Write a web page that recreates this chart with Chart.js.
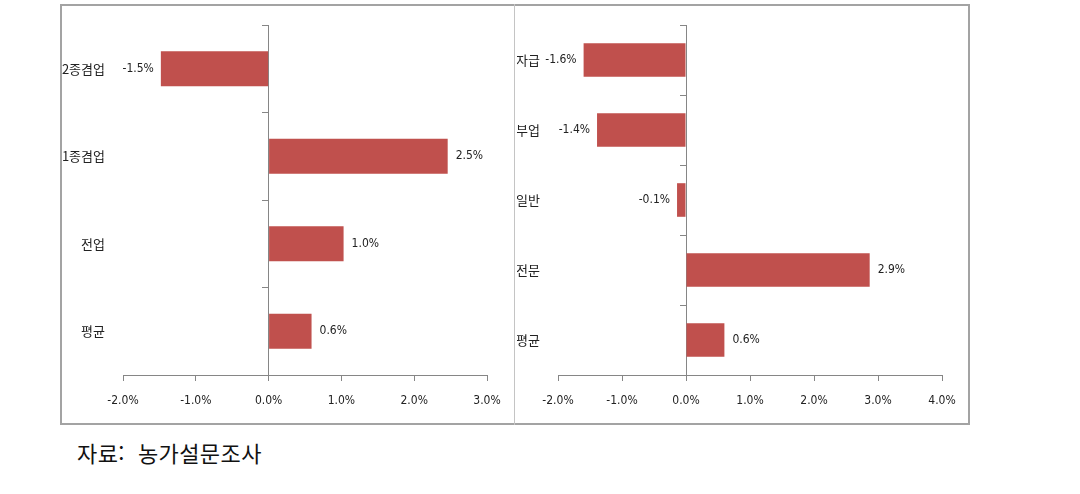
<!DOCTYPE html>
<html lang="ko">
<head>
  <meta charset="UTF-8" />
  <title>농가 유형별 변화율</title>
  <style>
    * { box-sizing: border-box; margin: 0; padding: 0; }
    body { background: #fff; width: 1080px; height: 494px; position: relative; overflow: hidden; }
    .frame {
      position: absolute; left: 60px; top: 4px; width: 910px; height: 421px;
      border: 2px solid #a3a3a3;
    }
    .divider { position: absolute; left: 514px; top: 4px; width: 1px; height: 421px; background: #c4c4c4; }
    .panel { position: absolute; top: 6px; width: 452px; height: 416px; }
    #leftPanel { left: 62px; }
    #rightPanel { left: 517px; }
    .source {
      position: absolute; left: 77px; top: 441px;
      font-family: "Noto Sans CJK KR", sans-serif; font-size: 22px; line-height: 22px;
      letter-spacing: 0.4px; color: #111; white-space: pre;
    }
  </style>
  <script src="https://cdn.jsdelivr.net/npm/chart.js"></script>
</head>
<body>
  <div class="frame"></div>
  <div class="divider"></div>
  <div class="panel" id="leftPanel"><canvas id="leftChart" width="452" height="416"></canvas></div>
  <div class="panel" id="rightPanel"><canvas id="rightChart" width="452" height="416"></canvas></div>
  <div class="source">자료:  농가설문조사</div>

  <script>
    // left: by part-time status
    const leftCategories = ['2종겸업', '1종겸업', '전업', '평균'];
    const leftValues = [-1.48, 2.46, 1.03, 0.59];
    const leftTicks = { min: -2, max: 3 };

    // right: by farm type
    const rightCategories = ['자급', '부업', '일반', '전문', '평균'];
    const rightValues = [-1.6, -1.39, -0.14, 2.87, 0.6];
    const rightTicks = { min: -2, max: 4 };

    const barColor = '#c0504d';
    const axisColor = '#868686';
    const numFamily = '"DejaVu Sans Condensed", sans-serif';
    const tickFont = { family: numFamily, size: 12 };
    const catFont = { family: '"Noto Sans CJK KR", sans-serif', size: 13 };

    // value labels at the end of each bar
    const valueLabels = {
      id: 'valueLabels',
      afterDatasetsDraw(chart) {
        const ctx = chart.ctx;
        const meta = chart.getDatasetMeta(0);
        const vals = chart.data.datasets[0].data;
        ctx.save();
        ctx.font = '12px ' + numFamily;
        ctx.fillStyle = '#222';
        ctx.textBaseline = 'middle';
        meta.data.forEach((bar, i) => {
          const v = vals[i];
          const text = v.toFixed(1) + '%';
          if (v < 0) {
            ctx.textAlign = 'right';
            ctx.fillText(text, bar.x - 7, bar.y);
          } else {
            ctx.textAlign = 'left';
            ctx.fillText(text, bar.x + 8, bar.y);
          }
        });
        ctx.restore();
      }
    };

    function makeChart(id, labels, values, range, yWidth, barPct) {
      return new Chart(document.getElementById(id), {
        type: 'bar',
        data: {
          labels: labels,
          datasets: [{
            data: values,
            backgroundColor: barColor,
            borderWidth: 0,
            categoryPercentage: 1,
            barPercentage: barPct
          }]
        },
        options: {
          indexAxis: 'y',
          responsive: false,
          animation: false,
          layout: { padding: { top: 19, right: 27, left: 0, bottom: 0 } },
          plugins: { legend: { display: false }, tooltip: { enabled: false } },
          scales: {
            x: {
              min: range.min,
              max: range.max,
              ticks: {
                stepSize: 1,
                color: '#222',
                font: tickFont,
                padding: 13,
                callback: v => v.toFixed(1) + '%'
              },
              grid: { drawOnChartArea: false, drawTicks: true, tickLength: 6, color: axisColor },
              border: { display: true, color: axisColor },
              afterFit: s => { s.height = 47; }
            },
            y: {
              type: 'category',
              ticks: { color: '#222', font: catFont, padding: 10 },
              grid: { display: false },
              border: { display: false },
              afterFit: s => { s.width = yWidth; }
            },
            y2: {
              type: 'category',
              axis: 'y',
              position: { x: 0 },
              offset: true,
              ticks: { display: false },
              grid: { offset: true, drawOnChartArea: false, drawTicks: true, tickLength: 6, color: axisColor },
              border: { display: true, color: axisColor }
            }
          }
        },
        plugins: [valueLabels]
      });
    }

    makeChart('leftChart', leftCategories, leftValues, leftTicks, 61, 0.4);
    makeChart('rightChart', rightCategories, rightValues, rightTicks, 41, 0.48);
  </script>
</body>
</html>
